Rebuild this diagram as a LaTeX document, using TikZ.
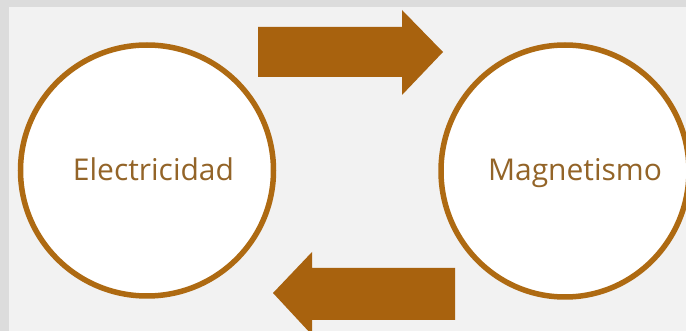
\documentclass[tikz,border=0pt]{standalone}
\usepackage{fontspec}
\setmainfont{Open Sans}
\definecolor{frame}{HTML}{DCDCDC}
\definecolor{panel}{HTML}{F2F2F2}
\definecolor{ring}{HTML}{AE6A12}
\definecolor{arrowfill}{HTML}{A8620E}
\definecolor{label}{HTML}{936428}
\tikzset{
  ringstyle/.style={draw=ring, line width=5.5pt, fill=white},
  bigarrow/.style={fill=arrowfill, draw=none},
  labelstyle/.style={text=label, font=\fontsize{30}{33}\selectfont, inner sep=0pt, anchor=base}
}
\begin{document}
\begin{tikzpicture}[x=1pt,y=-1pt]
\useasboundingbox (0,0) rectangle (686,331);
\clip (0,0) rectangle (686,331);
\fill[frame] (0,0) rectangle (686,331);
\fill[panel] (9,7) rectangle (690,335);
% circles
\draw[ringstyle] (147,170.5) ellipse [x radius=126.5, y radius=125.5];
\draw[ringstyle] (565,171) ellipse [x radius=124, y radius=126];
\node[labelstyle] (elec) at (153.5,181) {Electricidad};
\node[labelstyle] (magn) at (575,181) {Magnetismo};
% arrows
\fill[bigarrow] (258,27) -- (402,27) -- (402,10) -- (443,52) -- (402,95) -- (402,77) -- (258,77) -- cycle;
\fill[bigarrow] (455,268) -- (312,268) -- (312,252) -- (273,293) -- (312,335) -- (312,320) -- (455,320) -- cycle;
\end{tikzpicture}
\end{document}
